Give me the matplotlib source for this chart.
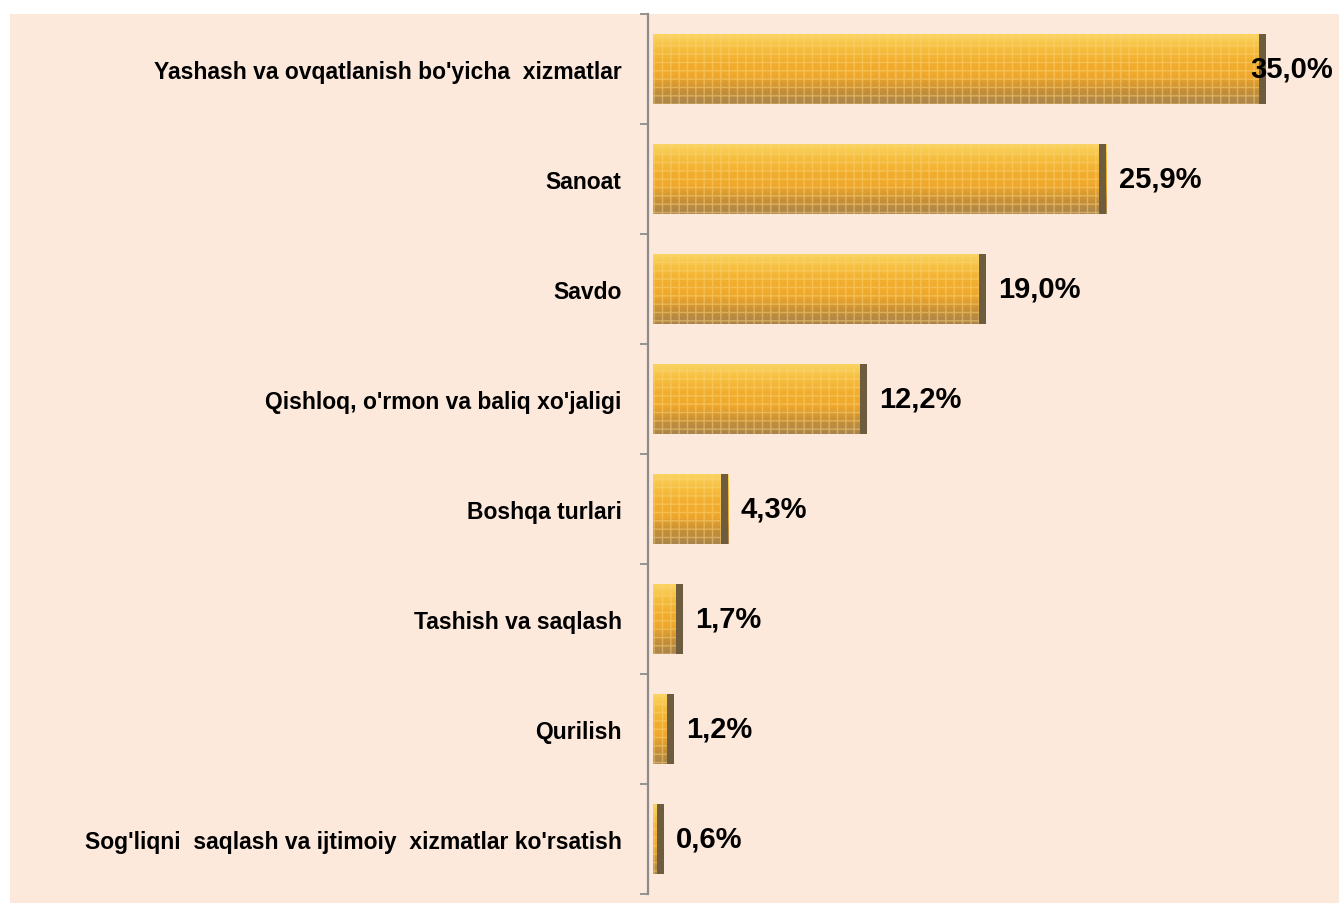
import numpy as np
import matplotlib
matplotlib.use("Agg")
import matplotlib.pyplot as plt
import matplotlib.patches as patches
from matplotlib.colors import LinearSegmentedColormap

# --- Dados ---
categorias = [
    "Yashash va ovqatlanish bo'yicha  xizmatlar",
    "Sanoat",
    "Savdo",
    "Qishloq, o'rmon va baliq xo'jaligi",
    "Boshqa turlari",
    "Tashish va saqlash",
    "Qurilish",
    "Sog'liqni  saqlash va ijtimoiy  xizmatlar ko'rsatish",
]
valores = [35.0, 25.9, 19.0, 12.2, 4.3, 1.7, 1.2, 0.6]
rotulos = ["35,0%", "25,9%", "19,0%", "12,2%", "4,3%", "1,7%", "1,2%", "0,6%"]

plt.rcParams['font.family'] = ['Liberation Sans', 'DejaVu Sans']

fig = plt.figure(figsize=(13.39, 9.04), dpi=100)
fig.patch.set_facecolor('white')

# fundo pêssego
fundo = patches.Rectangle((10 / 1339, -0.01), 1, 1.01 - 15 / 904, transform=fig.transFigure,
                          facecolor='#FDE9DB', edgecolor='none', zorder=-5)
fig.patches.append(fundo)

# eixo: x=648 px, y de 15 a 895 px
ax = fig.add_axes([648 / 1339, 9 / 904, 1 - 648 / 1339, 880 / 904])
ax.set_facecolor('none')
ax.set_zorder(2)

y = np.arange(len(valores))
altura = 0.63

# gradiente vertical para as barras
grad = np.linspace(0, 1, 64).reshape(-1, 1)
cmap = LinearSegmentedColormap.from_list(
    'ouro', ['#FAD35E', '#F6BE3E', '#F2AE2E', '#EFA82C', '#C99036', '#A9854E'])

barras = ax.barh(y, valores, height=altura, color='#F2AE2E', edgecolor='none', zorder=2)
for b in barras:
    x0, y0 = b.get_x(), b.get_y()
    w, h = b.get_width(), b.get_height()
    im = ax.imshow(grad, cmap=cmap, aspect='auto', extent=(x0, x0 + w, y0, y0 + h),
                   origin='lower', zorder=3, interpolation='bilinear')
    im.set_clip_path(b)

# textura pontilhada leve
ax.barh(y, valores, height=altura, color='none', edgecolor='#FBD47A', hatch='++',
        linewidth=0, zorder=4, alpha=0.5)

# sombra no lado direito
larg_sombra = [min(0.4, v * 0.6) for v in valores]
ax.barh(y, larg_sombra, left=[v - s for v, s in zip(valores, larg_sombra)], height=altura,
        color='#6E5C3E', edgecolor='none', zorder=5)

# rótulos dos valores
for i, (v, r) in enumerate(zip(valores, rotulos)):
    dx = -11 if i == 0 else 9
    ax.annotate(r, (v, i), xytext=(dx, 0), textcoords='offset points',
                ha='left', va='center', fontsize=21, fontweight='bold', zorder=6)

px = 17.5  # pixels por ponto percentual
x_min = -5 / px
ax.set_xlim(x_min, x_min + (1339 - 648) / px)
ax.set_ylim(len(valores) - 0.5, -0.5)

# eixo
for lado in ['top', 'right', 'bottom']:
    ax.spines[lado].set_visible(False)
ax.spines['left'].set_color('#8C8C8C')
ax.spines['left'].set_linewidth(1.6)
ax.set_xticks([])

ax.set_yticks(np.arange(len(valores) + 1) - 0.5)
ax.set_yticklabels([])
ax.tick_params(axis='y', which='major', length=6, width=1.3, color='#8C8C8C')
ax.set_yticks(y, minor=True)
ax.set_yticklabels(categorias, minor=True, fontsize=16.5, fontweight='bold')
ax.tick_params(axis='y', which='minor', length=0, pad=19)

fig.savefig('out.png', dpi=100)
